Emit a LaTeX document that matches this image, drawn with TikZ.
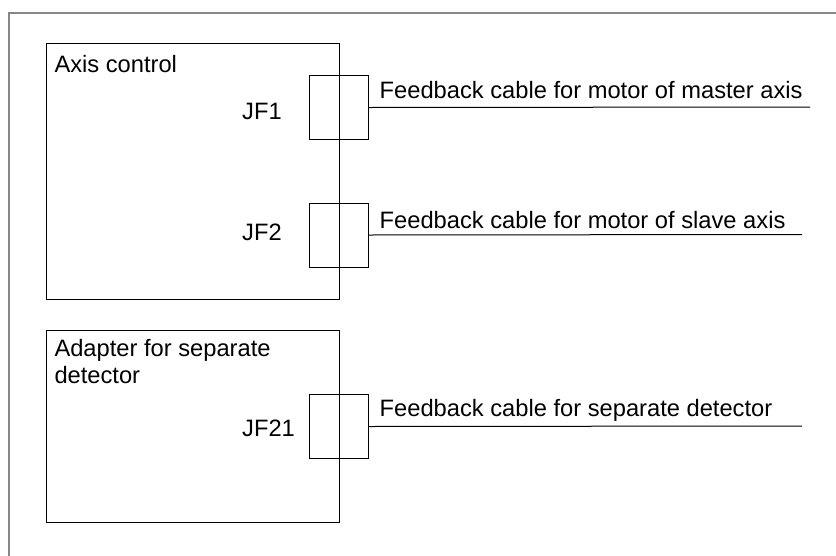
\documentclass[tikz,border=0pt]{standalone}
\usepackage{fontspec}
\setmainfont{Liberation Sans}
\begin{document}
\begin{tikzpicture}[x=1pt,y=-1pt,
  box/.style={draw=black, line width=1pt, inner sep=0pt, anchor=north west},
  conn/.style={draw=black, line width=1pt, inner sep=0pt, anchor=north west, minimum width=59pt, minimum height=64pt},
  lbl/.style={inner sep=0pt, anchor=base west, font=\fontsize{23.7}{26.7}\selectfont, align=left},
  cable/.style={draw=black, line width=1pt},
  frame/.style={draw=black!47, line width=2pt}]
\useasboundingbox (0,0) rectangle (836,555);
% outer frame (open right/bottom)
\coordinate (fbl) at (8.5,560);
\coordinate (ftl) at (8.5,12.7);
\coordinate (ftr) at (840,12.7);
\draw[frame] (fbl) -- (ftl) -- (ftr);
% main boxes
\node[box, minimum width=293pt, minimum height=256pt] (axis) at (46,43) {};
\node[box, minimum width=293pt, minimum height=192pt] (adap) at (46,330) {};
% connectors
\node[conn] (jf1) at (309,75) {};
\node[conn] (jf2) at (309,202.5) {};
\node[conn] (jf21) at (309,394) {};
% labels
\node[lbl] (taxis) at (54.3,72.7) {Axis control};
\node[lbl] (tadap) at (54.3,383.3) {Adapter for separate\\detector};
\node[lbl] (tjf1) at (242,119) {JF1};
\node[lbl] (tjf2) at (242,240) {JF2};
\node[lbl] (tjf21) at (242,436.7) {JF21};
\node[lbl] (c1) at (379.5,98) {Feedback cable for motor of master axis};
\node[lbl] (c2) at (379.5,228.3) {Feedback cable for motor of slave axis};
\node[lbl] (c3) at (379.5,416) {Feedback cable for separate detector};
% cables
\coordinate (e1) at (810,107);
\coordinate (e2) at (802,234.5);
\coordinate (e3) at (802,426);
\draw[cable] (jf1.east) -- (e1);
\draw[cable] (jf2.east) -- (e2);
\draw[cable] (jf21.east) -- (e3);
\end{tikzpicture}
\end{document}
